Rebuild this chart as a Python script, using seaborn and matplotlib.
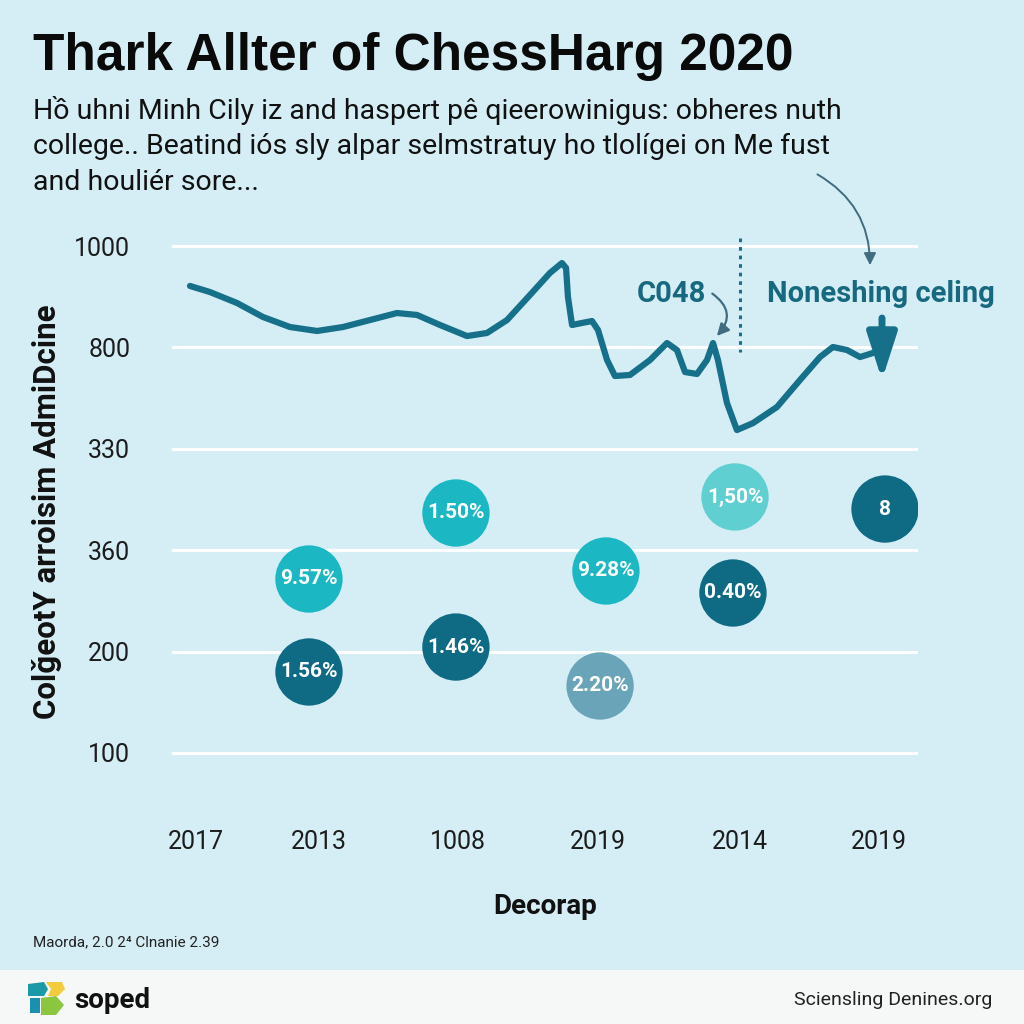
import matplotlib
matplotlib.use("Agg")
import matplotlib.pyplot as plt
import seaborn as sns
import pandas as pd
from matplotlib.patches import Rectangle, Polygon

# ---------------- data ----------------
title = "Thark Allter of ChessHarg 2020"
subtitle_lines = [
    "Hồ uhni Minh Cily iz and haspert pê qieerowinigus: obheres nuth",
    "college.. Beatind iós sly alpar selmstratuy ho tlolígei on Me fust",
    "and houliér sore...",
]
x_tick_labels = ["2017", "2013", "1008", "2019", "2014", "2019"]
y_tick_labels = ["100", "200", "360", "330", "800", "1000"]
x_label = "Decorap"
y_label = "ColǧeotY arroisim AdmiDcine"

line_x = [-0.044, 0.102, 0.300, 0.490, 0.688, 0.886, 1.076, 1.274, 1.471, 1.618,
          1.786, 1.984, 2.130, 2.277, 2.445, 2.591, 2.679, 2.709, 2.723, 2.753,
          2.826, 2.899, 2.943, 3.009, 3.067, 3.177, 3.324, 3.448, 3.521, 3.580,
          3.668, 3.741, 3.785, 3.821, 3.887, 3.960, 4.078, 4.253, 4.422, 4.568,
          4.663, 4.766, 4.861, 4.956]
line_y = [4.606, 4.546, 4.438, 4.300, 4.201, 4.162, 4.201, 4.270, 4.339, 4.320,
          4.221, 4.112, 4.142, 4.270, 4.517, 4.734, 4.832, 4.783, 4.497, 4.221,
          4.241, 4.260, 4.172, 3.876, 3.718, 3.728, 3.876, 4.043, 3.974, 3.757,
          3.738, 3.876, 4.043, 3.876, 3.452, 3.185, 3.254, 3.412, 3.679, 3.905,
          4.004, 3.974, 3.905, 3.945]

bubble_x = [0.827, 0.827, 1.903, 1.903, 3.001, 2.958, 3.946, 3.931, 5.044]
bubble_y = [1.716, 0.799, 2.367, 1.045, 1.795, 0.661, 2.525, 1.578, 2.406]
bubble_labels = ["9.57%", "1.56%", "1.50%", "1.46%", "9.28%", "2.20%", "1,50%", "0.40%", "8"]
bubble_group = ["bright", "dark", "bright", "dark", "bright", "slate", "light", "dark", "dark"]

annot_peak = "C048"
annot_ceiling = "Noneshing celing"
source_note = "Maorda, 2.0 2⁴ Clnanie 2.39"
brand = "soped"
site = "Sciensling Denines.org"

# ---------------- style ----------------
BG = "#d5eef6"
LINE = "#17708a"
TEAL_TXT = "#17697f"
palette = {"bright": "#1bb8c4", "dark": "#0f6a84", "light": "#5fcfd1", "slate": "#6aa4b8"}

sns.set_theme(style="white")
plt.rcParams["font.family"] = ["Roboto", "DejaVu Sans"]

W = H = 1024
fig = plt.figure(figsize=(10.24, 10.24), dpi=100)
fig.patch.set_facecolor(BG)

def fx(x):
    return x / W

def fy(y):
    return 1 - y / H

left, right, top, bottom = 172, 918, 230, 790
ax = fig.add_axes([fx(left), fy(bottom), fx(right) - fx(left), fy(top) - fy(bottom)])
ax.set_facecolor(BG)

x0px, xstep = 196, 136.6
y0px, ystep = 753, 101.4
ax.set_xlim((left - x0px) / xstep, (right - x0px) / xstep)
ax.set_ylim((y0px - bottom) / ystep, (y0px - top) / ystep)

for s in ax.spines.values():
    s.set_visible(False)

# grid lines
ax.set_yticks(range(len(y_tick_labels)))
ax.set_yticklabels(y_tick_labels)
ax.yaxis.grid(True, color="white", linewidth=2.2)
ax.xaxis.grid(False)
ax.set_axisbelow(True)
ax.set_xticks([0, 0.90, 1.92, 2.94, 3.98, 5.0])
ax.set_xticklabels(x_tick_labels)
ax.tick_params(axis="both", length=0, labelsize=18, labelcolor="#1c1c1c")
ax.tick_params(axis="x", pad=29)
ax.tick_params(axis="y", pad=30)

# line
df_line = pd.DataFrame({"x": line_x, "y": line_y})
sns.lineplot(data=df_line, x="x", y="y", ax=ax, color=LINE, linewidth=4.5,
             sort=False, estimator=None, solid_capstyle="round", solid_joinstyle="round")

# bubbles
df_b = pd.DataFrame({"x": bubble_x, "y": bubble_y, "g": bubble_group, "lab": bubble_labels})
sns.scatterplot(data=df_b, x="x", y="y", hue="g", palette=palette, s=2350,
                linewidth=0, legend=False, ax=ax, zorder=3)
for _, r in df_b.iterrows():
    ax.text(r.x, r.y, r.lab, ha="center", va="center", color="white",
            fontsize=15, fontweight="bold", zorder=4)

ax.set_xlabel(x_label, fontsize=20, fontweight="bold", color="#111111", labelpad=28)
ax.set_ylabel("")

# annotations
def d(px, py):
    return ((px - x0px) / xstep, (y0px - py) / ystep)

ax.text(*d(671, 294), annot_peak, ha="center", va="center", color=TEAL_TXT,
        fontsize=21, fontweight="bold")
ax.annotate("", xy=d(715, 338), xytext=d(710, 292),
            arrowprops=dict(arrowstyle="-|>,head_length=0.6,head_width=0.3",
                            connectionstyle="arc3,rad=-0.6", color="#3f6c7e", lw=1.6),
            annotation_clip=False)
ax.text(*d(881, 294), annot_ceiling, ha="center", va="center", color=TEAL_TXT,
        fontsize=21, fontweight="bold")
ax.annotate("", xy=d(870, 268), xytext=d(815, 173),
            arrowprops=dict(arrowstyle="-|>,head_length=0.6,head_width=0.3",
                            connectionstyle="arc3,rad=-0.3", color="#3f6c7e", lw=1.4),
            annotation_clip=False)
xd, _ = d(740, 0)
ax.plot([xd, xd], [d(0, 238)[1], d(0, 352)[1]], color=LINE, lw=2.2, ls=(0, (1.2, 1.6)))
ax.annotate("", xy=d(882, 380), xytext=d(882, 318),
            arrowprops=dict(arrowstyle="-|>,head_length=1.4,head_width=0.45",
                            color=LINE, lw=5, mutation_scale=20, shrinkA=0, shrinkB=0),
            annotation_clip=False)

# titles
fig.text(fx(33), fy(70), title, fontsize=37, fontweight="bold", color="#0a0a0a",
         family=["Liberation Sans", "DejaVu Sans"], va="baseline", ha="left")
for i, line in enumerate(subtitle_lines):
    fig.text(fx(33), fy(119 + 35.5 * i), line, fontsize=20.5, color="#111111",
             va="baseline", ha="left")
fig.text(fx(47), fy(512), y_label, rotation=90, fontsize=22.5, fontweight="bold",
         color="#111111", ha="center", va="center")

# footer
fig.text(fx(33), fy(942), source_note, fontsize=11, color="#222222", va="center", ha="left")
fig.patches.append(Rectangle((0, 0), 1, fy(970), transform=fig.transFigure,
                             facecolor="#f6f8f8", edgecolor="none", zorder=0))

def poly(pts, color):
    fig.patches.append(Polygon([(fx(a), fy(b)) for a, b in pts], closed=True,
                               transform=fig.transFigure, facecolor=color,
                               edgecolor="none", zorder=1))

poly([(28, 984), (44, 982), (48, 989), (44, 996), (28, 996)], "#1a9aa6")
poly([(46, 982), (62, 982), (65, 989), (58, 996), (48, 996), (51, 989)], "#f2cc3a")
poly([(30, 998), (40, 998), (40, 1013), (30, 1013)], "#1a8fb0")
poly([(41, 998), (56, 996), (64, 1005), (56, 1015), (41, 1015)], "#8cc63f")
fig.text(fx(74), fy(1000), brand, fontsize=20, fontweight="bold", color="#111111",
         va="center", ha="left")
fig.text(fx(992), fy(1000), site, fontsize=14, color="#222222", va="center", ha="right")

fig.savefig("out.png", dpi=100, facecolor=BG)
